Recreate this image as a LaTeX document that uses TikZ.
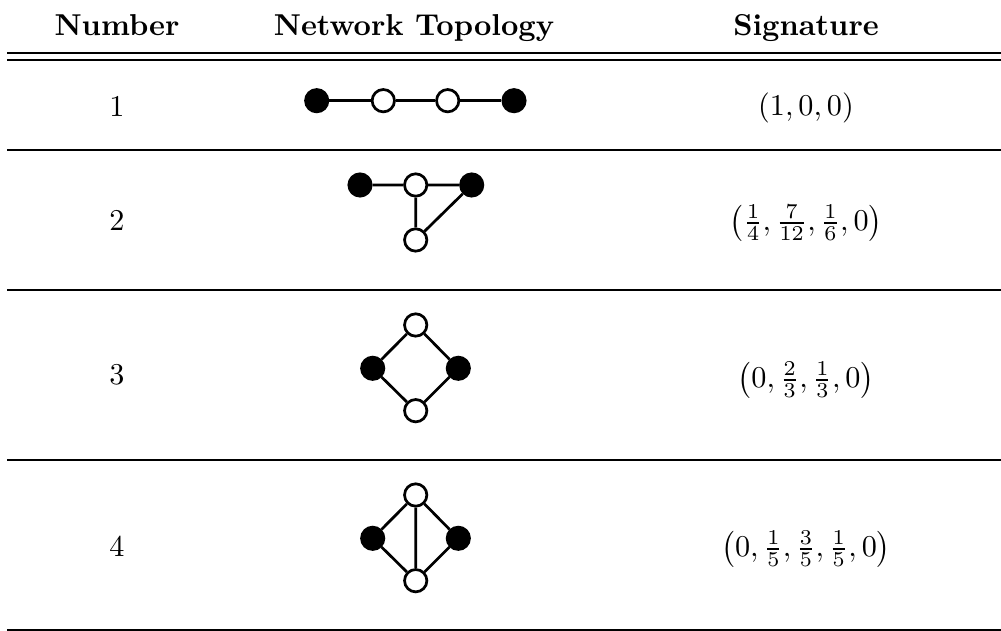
\documentclass[tikz,border=0pt]{standalone}
\usepackage{tikz}
\usetikzlibrary{positioning}

\begin{document}
\begin{tikzpicture}[
  x=0.3311pt, y=-0.3311pt,
  head/.style={font=\bfseries, anchor=base},
  cell/.style={inner sep=0pt},
  full/.style={circle, draw=black, fill=black, line width=0.9pt,
               minimum size=7.4pt, inner sep=0pt},
  empty/.style={circle, draw=black, fill=white, line width=0.9pt,
                minimum size=7.4pt, inner sep=0pt},
  edge/.style={line width=0.9pt},
  rule/.style={line width=0.6pt}
]
  \useasboundingbox (0,0) rectangle (1001,631);

  % Header
  \node[head] (hnum) at (117,36) {Number};
  \node[head] (htop) at (414,36) {Network Topology};
  \node[head] (hsig) at (806,36) {Signature};

  % Rules
  \coordinate (ltop) at (7,53);   \coordinate (rtop) at (1001,53);
  \coordinate (lmid) at (7,60);   \coordinate (rmid) at (1001,60);
  \coordinate (l1) at (7,150);    \coordinate (r1) at (1001,150);
  \coordinate (l2) at (7,290);    \coordinate (r2) at (1001,290);
  \coordinate (l3) at (7,460);    \coordinate (r3) at (1001,460);
  \coordinate (lbot) at (7,630);  \coordinate (rbot) at (1001,630);
  \draw[rule, line width=0.8pt] (ltop) -- (rtop);
  \draw[rule] (lmid) -- (rmid);
  \draw[rule] (l1) -- (r1);
  \draw[rule] (l2) -- (r2);
  \draw[rule] (l3) -- (r3);
  \draw[rule] (lbot) -- (rbot);

  % Row 1
  \node[cell] (num1) at (117,106) {1};
  \node[full] (a1) at (316.7,100.7) {};
  \node[empty] (a2) at (383.3,100.7) {};
  \node[empty] (a3) at (447.7,100.7) {};
  \node[full] (a4) at (514,100.7) {};
  \draw[edge] (a1) -- (a2) (a2) -- (a3) (a3) -- (a4);
  \node[cell] (sig1) at (806,108) {$(1, 0, 0)$};

  % Row 2
  \node[cell] (num2) at (117,220) {2};
  \node[full] (b1) at (360,185) {};
  \node[empty] (b2) at (415.7,185) {};
  \node[full] (b3) at (471.7,185) {};
  \node[empty] (b4) at (415.7,240) {};
  \draw[edge] (b1) -- (b2) (b2) -- (b3) (b2) -- (b4) (b4) -- (b3);
  \node[cell] (sig2) at (806,223)
    {$\left(\frac{1}{4}, \frac{7}{12}, \frac{1}{6}, 0\right)$};

  % Row 3
  \node[cell] (num3) at (117,375) {3};
  \node[empty] (c1) at (415.7,325) {};
  \node[full] (c2) at (372.7,368.3) {};
  \node[full] (c3) at (458.3,368.3) {};
  \node[empty] (c4) at (415.7,410.7) {};
  \draw[edge] (c1) -- (c2) (c1) -- (c3) (c2) -- (c4) (c3) -- (c4);
  \node[cell] (sig3) at (806,380)
    {$\left(0, \frac{2}{3}, \frac{1}{3}, 0\right)$};

  % Row 4
  \node[cell] (num4) at (117,546) {4};
  \node[empty] (d1) at (415.7,495) {};
  \node[full] (d2) at (372.7,538.3) {};
  \node[full] (d3) at (458.3,538.3) {};
  \node[empty] (d4) at (415.7,580.7) {};
  \draw[edge] (d1) -- (d2) (d1) -- (d3) (d2) -- (d4) (d3) -- (d4)
    (d1) -- (d4);
  \node[cell] (sig4) at (806,549)
    {$\left(0, \frac{1}{5}, \frac{3}{5}, \frac{1}{5}, 0\right)$};
\end{tikzpicture}
\end{document}
